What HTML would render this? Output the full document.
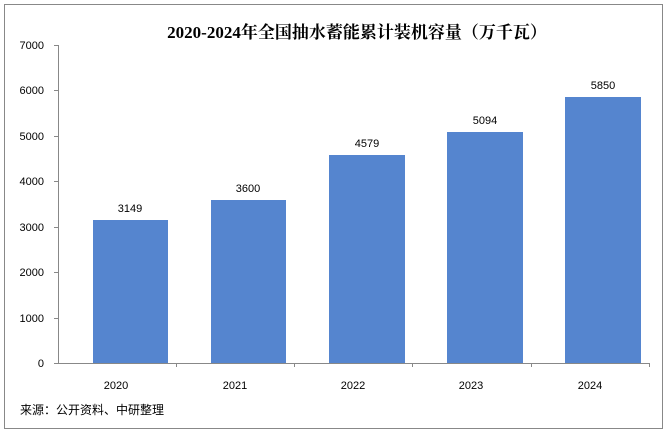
<!DOCTYPE html>
<html><head><style>
body{margin:0;width:668px;height:436px;background:#fff;overflow:hidden}
</style></head><body>
<svg width="668" height="436" xmlns="http://www.w3.org/2000/svg" style="font-family:'Liberation Sans','Noto Sans CJK SC',sans-serif">
<rect x="4.5" y="4.5" width="658" height="424" fill="#fff" stroke="#888"/>
<text x="357" y="38" text-anchor="middle" font-family="'Liberation Serif','Noto Serif CJK SC',serif" font-weight="bold" font-size="17">2020-2024年全国抽水蓄能累计装机容量（万千瓦）</text>
<g stroke="#888" fill="none">
<line x1="58.5" y1="45" x2="58.5" y2="363"/>
<line x1="58" y1="363.5" x2="650" y2="363.5"/>
<line x1="54" y1="45.5" x2="58" y2="45.5"/>
<line x1="54" y1="90.5" x2="58" y2="90.5"/>
<line x1="54" y1="136.5" x2="58" y2="136.5"/>
<line x1="54" y1="181.5" x2="58" y2="181.5"/>
<line x1="54" y1="227.5" x2="58" y2="227.5"/>
<line x1="54" y1="272.5" x2="58" y2="272.5"/>
<line x1="54" y1="318.5" x2="58" y2="318.5"/>
<line x1="54" y1="363.5" x2="58" y2="363.5"/>
<line x1="176.5" y1="363" x2="176.5" y2="367"/>
<line x1="294.5" y1="363" x2="294.5" y2="367"/>
<line x1="412.5" y1="363" x2="412.5" y2="367"/>
<line x1="531.5" y1="363" x2="531.5" y2="367"/>
<line x1="649.5" y1="363" x2="649.5" y2="367"/>
</g>
<g font-size="11" text-anchor="end" fill="#000">
<text x="44" y="49">7000</text><text x="44" y="94">6000</text><text x="44" y="140">5000</text><text x="44" y="185">4000</text><text x="44" y="231">3000</text><text x="44" y="276">2000</text><text x="44" y="322">1000</text><text x="44" y="367">0</text>
</g>
<g fill="#5585cf">
<rect x="93" y="220" width="75" height="143"/>
<rect x="211" y="200" width="75" height="163"/>
<rect x="329" y="155" width="76" height="208"/>
<rect x="447" y="132" width="76" height="231"/>
<rect x="565" y="97" width="76" height="266"/>
</g>
<g font-size="11" text-anchor="middle">
<text x="130" y="212">3149</text><text x="248" y="192">3600</text><text x="367" y="147">4579</text><text x="485" y="124">5094</text><text x="603" y="89">5850</text>
<text x="116" y="389">2020</text><text x="235" y="389">2021</text><text x="353" y="389">2022</text><text x="471" y="389">2023</text><text x="590" y="389">2024</text>
</g>
<text x="20" y="414" font-size="12">来源：公开资料、中研整理</text>
</svg>
</body></html>
